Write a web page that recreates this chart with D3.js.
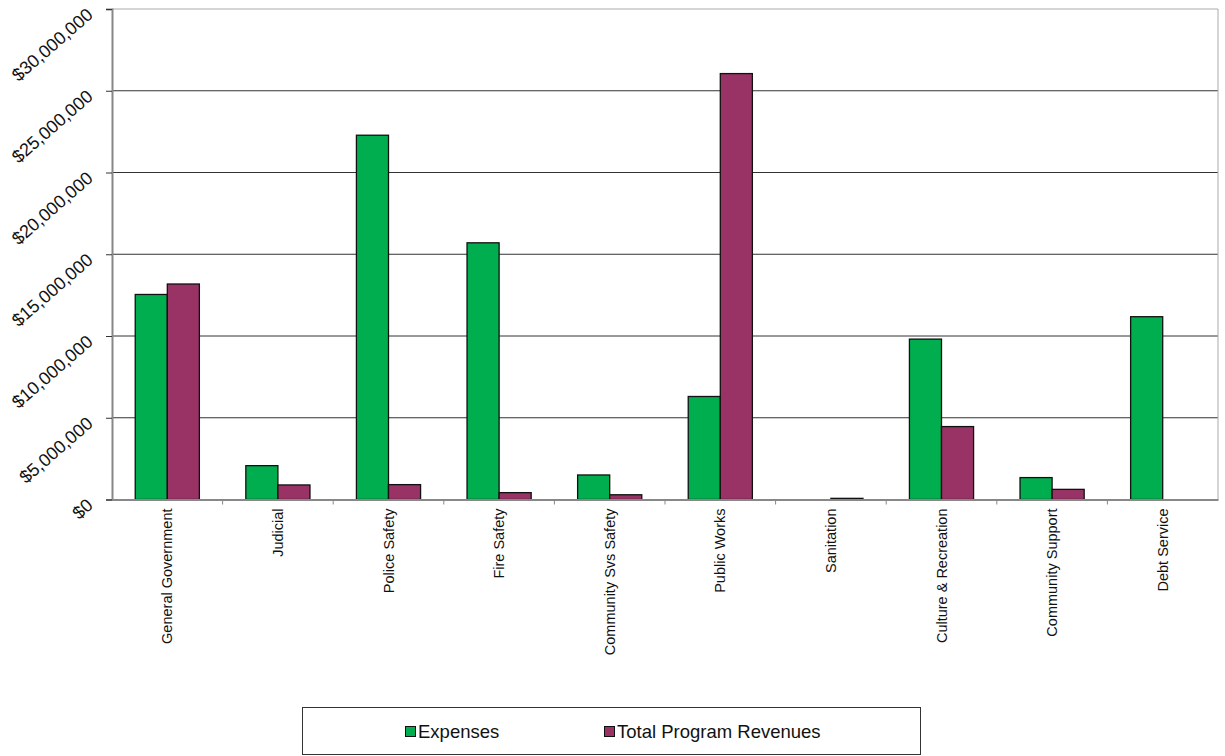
<!DOCTYPE html>
<html>
<head>
<meta charset="utf-8">
<script src="https://cdn.jsdelivr.net/npm/d3@7"></script>
<style>
  body { margin: 0; background: #fff; }
  text { font-family: "Liberation Sans", Arial, sans-serif; }
</style>
</head>
<body>
<div id="container"></div>
<script>
// values
const categories = ["General Government", "Judicial", "Police Safety", "Fire Safety",
  "Community Svs Safety", "Public Works", "Sanitation", "Culture & Recreation",
  "Community Support", "Debt Service"];
const expenses = [12540000, 2070000, 22280000, 15700000, 1500000, 6300000, 0, 9810000, 1340000, 11180000];
const revenues = [13180000, 890000, 910000, 420000, 290000, 26050000, 70000, 4460000, 620000, 0];
const seriesNames = ["Expenses", "Total Program Revenues"];
const colors = ["#00AE4F", "#993366"];
const yTicks = [0, 5000000, 10000000, 15000000, 20000000, 25000000, 30000000];

const width = 1225, height = 756;
const plotLeft = 112, plotRight = 1218, plotTop = 9, plotBottom = 499.5;

const svg = d3.select("#container").append("svg")
  .attr("width", width).attr("height", height);

const x = d3.scaleBand().domain(categories).range([plotLeft, plotRight]).paddingInner(0).paddingOuter(0);
const y = d3.scaleLinear().domain([0, 30000000]).range([plotBottom, plotTop]);
const barW = x.bandwidth() * 0.29;

// gridlines
svg.append("g").selectAll("line").data(yTicks.slice(1)).join("line")
  .attr("x1", plotLeft).attr("x2", plotRight)
  .attr("y1", d => y(d)).attr("y2", d => y(d))
  .attr("stroke", d => d === 30000000 ? "#aaa" : "#333").attr("stroke-width", 1);

// right border
svg.append("line").attr("x1", plotRight).attr("x2", plotRight).attr("y1", plotTop).attr("y2", plotBottom)
  .attr("stroke", "#aaa");

// bars
const data = categories.map((c, i) => ({ c, vals: [expenses[i], revenues[i]] }));
const groups = svg.append("g").selectAll("g").data(data).join("g");
groups.selectAll("rect").data(d => d.vals.map((v, k) => ({ c: d.c, v, k })).filter(d => d.v > 0))
  .join("rect")
  .attr("x", d => x(d.c) + x.bandwidth() / 2 - barW + d.k * barW)
  .attr("y", d => y(d.v))
  .attr("width", barW)
  .attr("height", d => plotBottom - y(d.v))
  .attr("fill", d => colors[d.k])
  .attr("stroke", "#111").attr("stroke-width", 1.3);

// y axis
const yAxis = svg.append("g").attr("transform", `translate(${plotLeft},0)`)
  .call(d3.axisLeft(y).tickValues(yTicks).tickSize(6).tickFormat(d => "$" + d3.format(",")(d)));
yAxis.select(".domain").attr("stroke", "#888").attr("stroke-width", 2);
yAxis.selectAll(".tick line").attr("stroke", "#333");
yAxis.selectAll(".tick text")
  .attr("font-size", 18).attr("fill", "#111")
  .attr("text-anchor", "end")
  .attr("x", 0).attr("dy", 0)
  .attr("transform", "translate(-18,7) rotate(-41)");

// x axis
const xAxis = svg.append("g").attr("transform", `translate(0,${plotBottom})`)
  .call(d3.axisBottom(x).tickSize(0).tickFormat(d => d));
xAxis.select(".domain").attr("stroke", "#888").attr("stroke-width", 2);
xAxis.selectAll(".tick text")
  .attr("font-size", 14.5).attr("fill", "#111")
  .attr("text-anchor", "end")
  .attr("x", 0).attr("y", 0).attr("dy", "0.35em")
  .attr("transform", "translate(0,9) rotate(-90)");
// category separators
svg.append("g").selectAll("line").data(categories.slice(1)).join("line")
  .attr("x1", d => x(d)).attr("x2", d => x(d))
  .attr("y1", plotBottom).attr("y2", plotBottom + 5)
  .attr("stroke", "#888");

// legend
const lg = svg.append("g");
lg.append("rect").attr("x", 302.5).attr("y", 707.5).attr("width", 618).attr("height", 47)
  .attr("fill", "#fff").attr("stroke", "#333");
const legendX = [405, 604];
seriesNames.forEach((n, i) => {
  lg.append("rect").attr("x", legendX[i] + 0.5).attr("y", 726.5).attr("width", 10).attr("height", 10)
    .attr("fill", colors[i]).attr("stroke", "#111");
  lg.append("text").attr("x", legendX[i] + 13).attr("y", 738)
    .attr("font-size", 18.5).attr("fill", "#111").text(n);
});
</script>
</body>
</html>
